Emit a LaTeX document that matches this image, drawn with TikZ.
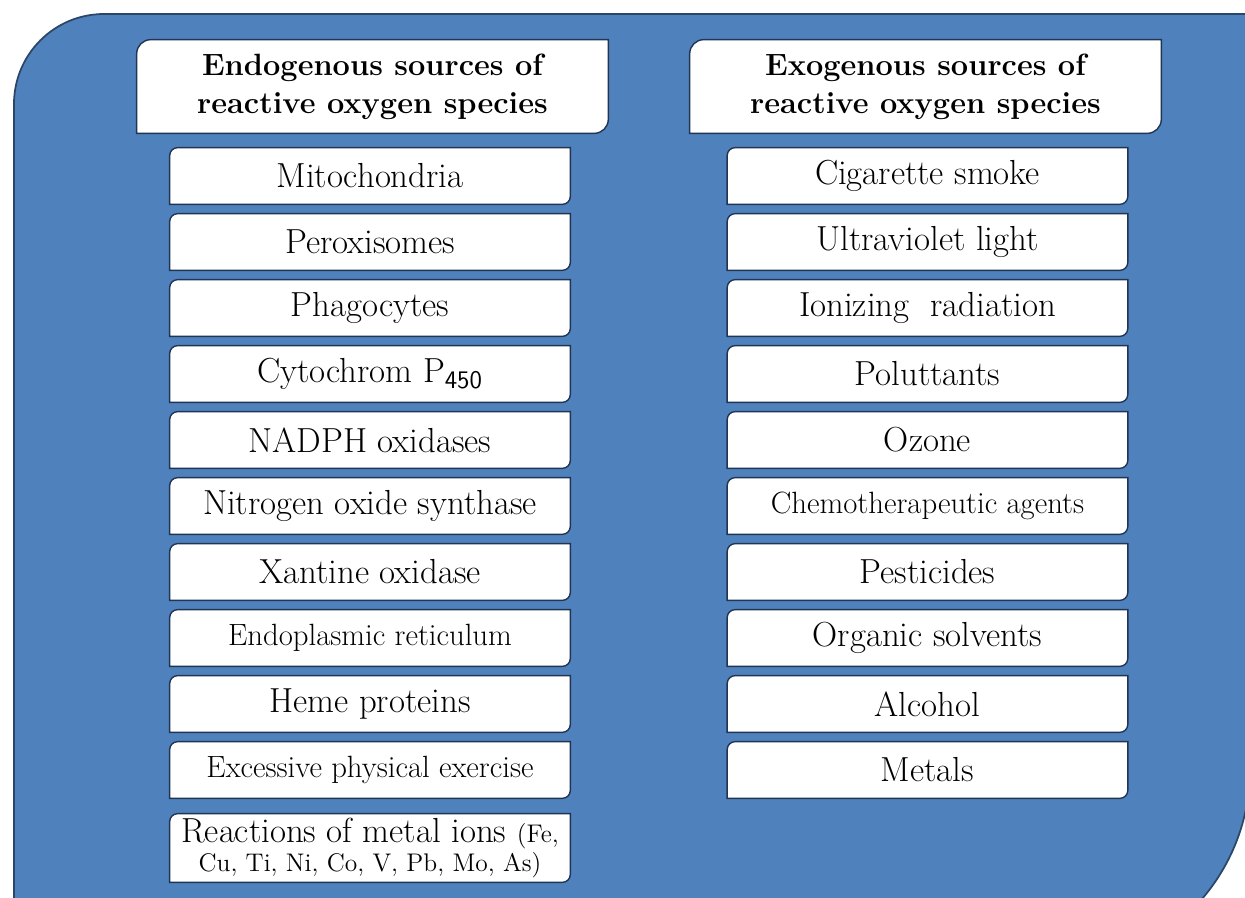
\documentclass[tikz,border=0pt]{standalone}
\usepackage{xcolor}
\usepackage{tikz}
\usetikzlibrary{backgrounds}
\definecolor{panelblue}{RGB}{79,129,189}
\definecolor{boxedge}{RGB}{32,52,84}

% outline with round top-left and bottom-right corners
\newcommand{\srcframe}[2]{%
  \draw[frame] (#1.south west) -- ([yshift=-#2]#1.north west)
    arc[start angle=180, end angle=90, radius=#2] -- (#1.north east)
    -- ([yshift=#2]#1.south east)
    arc[start angle=0, end angle=-90, radius=#2] -- cycle;}

\begin{document}
\begin{tikzpicture}[x=0.02cm, y=-0.02cm,
  head/.style={minimum width=9.42cm, minimum height=1.86cm, inner sep=0pt,
               align=center, font=\fontsize{17.5}{21.6}\selectfont\bfseries},
  src/.style={minimum width=8cm, minimum height=1.12cm, inner sep=0pt,
              font=\fontsize{19.8}{24}\selectfont},
  srcsm/.style={src, font=\fontsize{17.5}{21}\selectfont},
  frame/.style={draw=boxedge, line width=0.8pt, fill=white},
  panel/.style={fill=panelblue, draw=panelblue!55!black, line width=1pt}
]
\useasboundingbox (0,0) rectangle (1245,898);

\node[head] (endohead) at (372.5,86.5) {Endogenous sources of\\reactive oxygen species};
\node[head] (exohead)  at (925.5,86.5) {Exogenous sources of\\reactive oxygen species};

\node[src]   (endo1)  at (370,176) {Mitochondria};
\node[src]   (endo2)  at (370,242) {Peroxisomes};
\node[src]   (endo3)  at (370,308) {Phagocytes};
\node[src]   (endo4)  at (370,374) {Cytochrom P$_{\mathsf{450}}$};
\node[src]   (endo5)  at (370,440) {NADPH oxidases};
\node[src]   (endo6)  at (370,506) {Nitrogen oxide synthase};
\node[src]   (endo7)  at (370,572) {Xantine oxidase};
\node[srcsm] (endo8)  at (370,638) {Endoplasmic reticulum};
\node[src]   (endo9)  at (370,704) {Heme proteins};
\node[srcsm] (endo10) at (370,770) {Excessive physical exercise};
\node[src, minimum height=1.36cm, align=center, font=\fontsize{19.8}{16}\selectfont]
             (endo11) at (370,848) {Reactions of metal ions {\fontsize{14.5}{16}\selectfont(Fe,}\\
             {\fontsize{14.5}{16}\selectfont Cu, Ti, Ni, Co, V, Pb, Mo, As)}};

\node[src]   (exo1)  at (927.5,176) {Cigarette smoke};
\node[src]   (exo2)  at (927.5,242) {Ultraviolet light};
\node[src]   (exo3)  at (927.5,308) {Ionizing\ \ radiation};
\node[src]   (exo4)  at (927.5,374) {Poluttants};
\node[src]   (exo5)  at (927.5,440) {Ozone};
\node[srcsm] (exo6)  at (927.5,506) {Chemotherapeutic agents};
\node[src]   (exo7)  at (927.5,572) {Pesticides};
\node[src]   (exo8)  at (927.5,638) {Organic solvents};
\node[src]   (exo9)  at (927.5,704) {Alcohol};
\node[src]   (exo10) at (927.5,770) {Metals};

\begin{scope}[on background layer]
  \clip (0,0) rectangle (1245,898);
  \draw[panel] (14,1000) -- (14,104) arc[start angle=180, end angle=90, radius=1.8cm]
    -- (1250,14) -- (1250,769) arc[start angle=0, end angle=-90, radius=4cm] -- (14,969) -- cycle;
  \srcframe{endohead}{8pt}
  \srcframe{exohead}{8pt}
  \foreach \n in {endo1,endo2,endo3,endo4,endo5,endo6,endo7,endo8,endo9,endo10,endo11,
                  exo1,exo2,exo3,exo4,exo5,exo6,exo7,exo8,exo9,exo10}
    \srcframe{\n}{4.5pt};
\end{scope}
\end{tikzpicture}
\end{document}
